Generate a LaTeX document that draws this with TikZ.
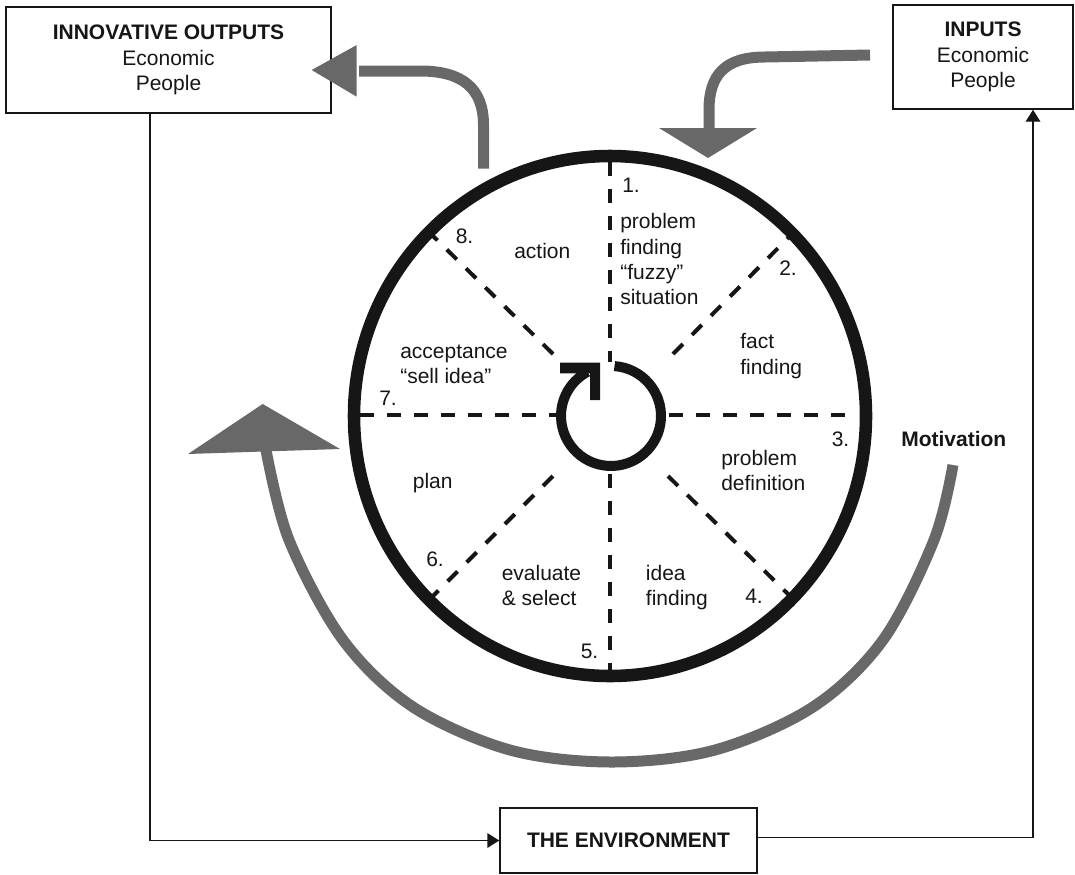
\documentclass[tikz,border=0pt]{standalone}
\usepackage{fontspec}
\setmainfont{Liberation Sans}
\usetikzlibrary{arrows.meta}

\definecolor{inkblack}{RGB}{22,22,22}
\definecolor{flowgray}{RGB}{104,104,104}

\begin{document}
\begin{tikzpicture}[x=0.75pt, y=0.75pt,
  every node/.style={inner sep=0pt, font=\fontsize{15.75}{19}\selectfont, text=inkblack},
  boxnode/.style={draw=inkblack, line width=1.1pt, align=center, fill=white},
  numlabel/.style={anchor=west},
  block/.style={anchor=north west, align=left},
  radial/.style={draw=inkblack, line width=3pt, dash pattern=on 10.5pt off 9.75pt},
  wheel/.style={draw=inkblack, line width=9.4pt},
  cycleline/.style={draw=inkblack, line width=7.5pt},
  flow/.style={draw=flowgray, line width=8.25pt},
  flowhead/.style={fill=flowgray},
  link/.style={draw=inkblack, line width=1.1pt},
  linktip/.style={-{Triangle[length=9pt,width=11pt]}}
]
\useasboundingbox (0,0) rectangle (1075,-875);

% ---------- boxes ----------
\node[boxnode, minimum width=243.75pt, minimum height=79.5pt] (outbox) at (168.5,-60)
  {\textbf{INNOVATIVE OUTPUTS}\\Economic\\People};
\node[boxnode, minimum width=135pt, minimum height=78pt] (inbox) at (983,-57)
  {\textbf{INPUTS}\\Economic\\People};
\node[boxnode, minimum width=192.75pt, minimum height=48.75pt] (envbox) at (628.5,-840.5)
  {\textbf{THE ENVIRONMENT}};

% ---------- environment loop ----------
\coordinate (dropL) at (150,0);
\coordinate (riseR) at (1033,0);
\draw[link, linktip] (outbox.south -| dropL) |- (envbox.west);
\draw[link, linktip] ([yshift=2.25pt]envbox.east) -| (inbox.south -| riseR);

% ---------- wheel ----------
\coordinate (hub) at (610,-416);
\draw[radial] (610,-162) -- (610,-362);
\draw[radial] (610,-474) -- (610,-670);
\draw[radial] (360,-415) -- (556,-415);
\draw[radial] (669,-415) -- (857,-415);
\draw[radial] (553,-354) -- (431,-234);
\draw[radial] (673,-354) -- (790,-236);
\draw[radial] (668,-476) -- (790,-596);
\draw[radial] (553,-476) -- (431,-598);
\draw[wheel] (hub) ellipse [x radius=256, y radius=260];

% central clockwise cycle symbol
\draw[cycleline] (614.5,-366.1) arc[start angle=86, end angle=-242, radius=50];
\fill[inkblack] (560,-362.7) -- (600,-362.7) -- (600,-400) -- (590,-400)
  -- (590,-373.3) -- (560,-373.3) -- cycle;

% ---------- stage labels ----------
\node[numlabel] (n1) at (622,-185) {1.};
\node[block] (s1) at (620,-210.9) {\strut problem\\finding\\“fuzzy”\\situation};
\node[numlabel] (n2) at (779,-268) {2.};
\node[block] (s2) at (740,-330.9) {\strut fact\\finding};
\node[numlabel] (n3) at (831.5,-439) {3.};
\node[block] (s3) at (721,-447.3) {\strut problem\\definition};
\node[numlabel] (n4) at (745,-596) {4.};
\node[block] (s4) at (645.7,-562.3) {\strut idea\\finding};
\node[numlabel] (n5) at (580.5,-651.7) {5.};
\node[block] (s5) at (501.5,-562.3) {\strut evaluate\\\& select};
\node[numlabel] (n6) at (426,-558.8) {6.};
\node[numlabel] (s6) at (412.6,-482.8) {plan};
\node[numlabel] (n7) at (379,-398) {7.};
\node[block] (s7) at (400,-340.3) {\strut acceptance\\“sell idea”};
\node[numlabel] (n8) at (455.5,-236) {8.};
\node[numlabel] (s8) at (514,-251) {action};

\node[numlabel] (motiv) at (901,-439) {\textbf{Motivation}};

% ---------- gray flow arrows ----------
% inputs into the wheel
\draw[flow] (870,-55) -- (765,-57) .. controls (725,-57) and (709,-75) .. (709,-110) -- (709,-130);
\fill[flowhead] (659,-128) -- (757,-128) -- (708,-158) -- cycle;

% wheel out to innovative outputs
\draw[flow] (483.5,-168.5) -- (483.5,-125) .. controls (483.5,-88) and (462,-71) .. (420,-71) -- (359,-71);
\fill[flowhead] (311.7,-70) -- (356.7,-45) -- (356.7,-96.7) -- cycle;

% motivation loop around the wheel
\draw[flow] plot[smooth, tension=0.55] coordinates {
  (953,-465) (934,-540) (883,-640) (813,-707) (715,-750) (612,-762)
  (510,-750) (413,-707) (343,-640) (289,-540) (266,-450)};
\fill[flowhead] (188,-454) -- (340,-449) -- (262.7,-404) -- cycle;

\end{tikzpicture}
\end{document}
